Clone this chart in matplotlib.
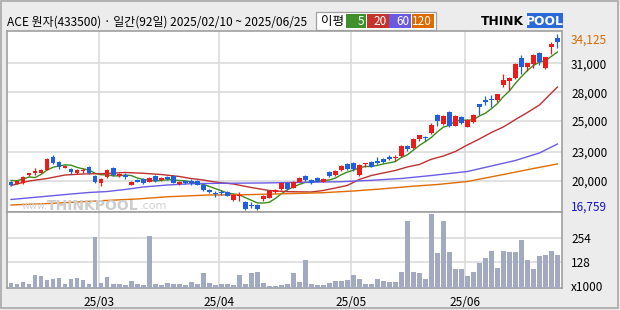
import matplotlib
matplotlib.use('Agg')
import matplotlib.pyplot as plt
import matplotlib.transforms as mtransforms
from matplotlib.patches import Rectangle
import numpy as np
import pandas as pd

plt.rcParams['font.family'] = ['Noto Sans CJK KR', 'DejaVu Sans']

# 일봉 데이터 (2025/02/10 ~ 2025/06/25, 92일)
opens = [19590, 19395, 19435, 20250, 20475, 20475, 20745, 22050, 21510, 20970,
         20840, 20475, 20615, 21040, 20180, 19435, 20005, 20970, 20105, 20280,
         19315, 19780, 19885, 19590, 20155, 19730, 20005, 20155, 19365, 19660,
         19640, 19660, 19265, 18775, 18450, 18580, 18580, 17790, 18155, 17595,
         17300, 17300, 17860, 18020, 18580, 18875, 19465, 19000, 19590, 20155,
         19760, 19935, 19590, 20525, 20250, 20745, 21315, 21460, 20250, 21305,
         21510, 21650, 21845, 22050, 21895, 22090, 23105, 22910, 23765, 23960,
         24385, 26155, 25270, 26470, 25120, 25930, 25005, 25435, 27210, 27600,
         27700, 27630, 29105, 29500, 29825, 31795, 30910, 31145, 32255, 30810,
         32845, 33760]
highs = [19690, 19690, 20125, 20475, 20940, 20810, 21895, 22190, 21580, 21235,
         20910, 20810, 20910, 21105, 20250, 19925, 20810, 21070, 20450, 20400,
         19660, 19855, 19955, 20055, 20250, 20055, 20105, 20220, 19680, 19730,
         19855, 19730, 19335, 18845, 18675, 18775, 18650, 18350, 18610, 17665,
         17545, 17370, 18255, 18725, 18845, 19530, 19530, 19630, 20005, 20220,
         19855, 20005, 19955, 20595, 20715, 21235, 21385, 21560, 21305, 21430,
         21580, 22050, 21925, 22190, 22220, 23155, 23230, 23845, 24235, 24090,
         25370, 26225, 26125, 26550, 26155, 26010, 25730, 26225, 27285, 28055,
         28125, 28270, 30160, 29845, 31270, 32060, 31320, 32155, 32385, 31910,
         33370, 34125]
lows = [19170, 19335, 19365, 20180, 20250, 20420, 20715, 21335, 20810, 20910,
        20320, 20320, 20450, 20350, 19435, 19200, 19955, 20180, 20005, 19810,
        19240, 19515, 19365, 19530, 19560, 19660, 19760, 19435, 19295, 19365,
        19295, 19240, 18705, 18450, 18040, 18285, 18135, 17720, 17720, 16855,
        17035, 16759, 17665, 17960, 18510, 18775, 18805, 18940, 19530, 19690,
        19365, 19530, 19530, 20085, 20180, 20595, 20790, 20675, 20180, 21010,
        21010, 21335, 21460, 21695, 21660, 22020, 22585, 22840, 23625, 23595,
        24315, 25100, 25200, 24975, 25055, 25240, 24925, 25370, 26155, 27140,
        26970, 27405, 28940, 28615, 29745, 30160, 30485, 30750, 31075, 30730,
        32130, 32780]
closes = [19265, 19660, 20055, 20420, 20615, 20745, 21825, 21480, 21010, 21185,
          20575, 20745, 20770, 20420, 19590, 19855, 20745, 20250, 20320, 20085,
          19590, 19580, 19465, 19985, 19630, 19975, 19835, 19495, 19610, 19435,
          19495, 19315, 18805, 18600, 18380, 18450, 18215, 18285, 18255, 16925,
          17170, 16905, 18185, 18645, 18775, 19465, 18875, 19560, 19935, 19760,
          19435, 19590, 19855, 20155, 20645, 21135, 20890, 20810, 21235, 21400,
          21070, 21460, 21510, 21805, 21995, 23105, 22760, 23775, 24170, 23845,
          25170, 25545, 26055, 25055, 26075, 25415, 25665, 26155, 26970, 27465,
          27600, 28190, 29600, 29765, 31175, 30910, 31240, 32060, 31400, 31835,
          33110, 33370]
# 거래량 (x1000)
volumes = [22, 17, 27, 17, 63, 58, 39, 42, 48, 19, 42, 48, 37, 17, 259, 22, 53, 17, 17, 12,
           32, 17, 12, 263, 17, 12, 22, 17, 17, 12, 27, 17, 73, 22, 12, 17, 17, 12, 63, 17,
           73, 78, 22, 7, 7, 12, 17, 73, 27, 140, 17, 12, 12, 22, 32, 32, 37, 63, 42, 17,
           17, 42, 32, 27, 27, 78, 340, 78, 73, 42, 375, 176, 340, 181, 94, 94, 58, 78, 124, 150,
           186, 99, 186, 181, 181, 242, 140, 94, 160, 165, 186, 165]

# 이동평균선: 5일선 앞부분과 20/60/120일선은 차트에서 읽은 값
ma5_head = [19710, 19690, 19860, 20055]
ma20_idx = [0, 3, 6, 9, 12, 16, 19, 22, 25, 28, 30, 32, 34, 37, 40, 43, 46, 50, 52,
            54, 56, 58, 60, 62, 64, 66, 68, 70, 72, 74, 76, 78, 80, 82, 84, 86, 88, 90, 91]
ma20_val = [19220, 19660, 19905, 20250, 20350, 20400, 20500, 20420, 20300, 20105, 19905,
            19760, 19560, 19365, 19020, 18725, 18610, 18580, 18725, 18970, 19220, 19810,
            20200, 20450, 20695, 21040, 21285, 21800, 22120, 22565, 23205, 23795, 24435,
            24975, 25710, 26400, 27140, 28320, 28910]
ma60_idx = [0, 4, 7, 10, 13, 16, 19, 22, 26, 30, 35, 42, 48, 55, 60, 65, 70, 76, 80, 84, 88, 91]
ma60_val = [17840, 18055, 18215, 18380, 18530, 18625, 18825, 19070, 19265, 19395, 19435,
            19465, 19530, 19590, 19730, 19905, 20200, 20595, 21135, 21680, 22415, 23300]
ma120_idx = [0, 7, 15, 21, 26, 33, 39, 46, 52, 57, 62, 67, 71, 76, 82, 87, 91]
ma120_val = [17300, 17465, 17720, 17890, 18105, 18285, 18310, 18410, 18510, 18675, 18895,
             19150, 19315, 19610, 20300, 20890, 21335]

month_idx = [15, 35, 57, 76]
month_labels = ['25/03', '25/04', '25/05', '25/06']
price_ticks = [31240, 28390, 25565, 22545, 19690]
price_labels = ['31,000', '28,000', '25,000', '23,000', '20,000']
vol_ticks = [254, 128]
vol_labels = ['254', '128']
ma_periods = ['5', '20', '60', '120']

title = 'ACE 원자(433500) · 일간(92일) 2025/02/10 ~ 2025/06/25'

UP = '#ee1b1b'
DOWN = '#1f5fe0'
MA_COLORS = ['#3c8c1c', '#bf3030', '#6a5ae6', '#e06c00']
BOX_COLORS = ['#3f8f2a', '#c4342c', '#6a5adf', '#de6a00']
GRID = '#d9d9d9'
FRAME = '#a0a0a0'

W, H = 620, 310


def fx(x):
    return x / W


def fy(y):
    return 1 - y / H


fig = plt.figure(figsize=(6.2, 3.1), dpi=100, facecolor='#ececec')
fig.patches.append(Rectangle((fx(1), fy(308)), fx(617), 307 / H, transform=fig.transFigure,
                             fill=False, edgecolor='#a8a8a8', lw=1.2))

ax = fig.add_axes([fx(7), fy(212), fx(555), 181 / H])
axv = fig.add_axes([fx(7), fy(287.5), fx(555), 75.5 / H], sharex=ax)

x = np.arange(len(closes))
o = np.array(opens)
c = np.array(closes)
hi = np.array(highs)
lo = np.array(lows)
colors = [UP if cc >= oo else DOWN for oo, cc in zip(o, c)]

# 캔들
body_bottom = np.minimum(o, c)
body_height = np.maximum(np.abs(c - o), 90)
ax.vlines(x, lo, hi, colors=colors, lw=0.9, zorder=4)
ax.bar(x, body_height, bottom=body_bottom, width=0.8, color=colors, zorder=5, linewidth=0)

# 이동평균선
ma5 = pd.Series(closes).rolling(5).mean().to_numpy()
ma5[:len(ma5_head)] = ma5_head
ax.plot(x, ma5, color=MA_COLORS[0], lw=1.0, zorder=3)
ax.plot(ma20_idx, ma20_val, color=MA_COLORS[1], lw=1.0, zorder=3)
ax.plot(ma60_idx, ma60_val, color=MA_COLORS[2], lw=1.0, zorder=3)
ax.plot(ma120_idx, ma120_val, color=MA_COLORS[3], lw=1.0, zorder=3)

rng = max(highs) - min(lows)
ax.set_ylim(min(lows) - 0.0086 * rng, max(highs) + 0.017 * rng)
ax.set_xlim(-0.67, len(closes) - 0.24)

# 거래량
axv.bar(x, volumes, width=0.8, color='#a2aac2', linewidth=0, zorder=3)
axv.set_ylim(0, 385)

grid_x = [i - 0.35 for i in month_idx]
for a in (ax, axv):
    a.set_facecolor('white')
    for s in a.spines.values():
        s.set_color(FRAME)
        s.set_linewidth(1.2)
    for gx in grid_x:
        a.axvline(gx, color=GRID, lw=1.1, zorder=1)
    a.yaxis.tick_right()
    a.tick_params(axis='both', length=0, labelsize=8.5, colors='black')

for gy in price_ticks:
    ax.axhline(gy, color=GRID, lw=1.1, zorder=1)
for gy in vol_ticks:
    axv.axhline(gy, color=GRID, lw=1.1, zorder=1)

ax.set_yticks(price_ticks)
ax.set_yticklabels(price_labels)
ax.tick_params(axis='y', pad=6.5)
ax.tick_params(axis='x', labelbottom=False)
axv.set_yticks(vol_ticks)
axv.set_yticklabels(vol_labels)
axv.tick_params(axis='y', pad=6.5)
axv.set_xticks(grid_x)
axv.set_xticklabels(month_labels)
axv.tick_params(axis='x', pad=6)

trans = mtransforms.blended_transform_factory(ax.transAxes, ax.transData)
lx = 1 + 9 / 555
ax.text(lx, max(highs), f'{max(highs):,}', transform=trans, ha='left', va='top',
        fontsize=8.5, color='#d56a00')
ax.text(lx, min(lows), f'{min(lows):,}', transform=trans, ha='left', va='baseline',
        fontsize=8.5, color='#1515c8')
axv.text(lx, 0, 'x1000', transform=mtransforms.blended_transform_factory(axv.transAxes, axv.transData),
         ha='left', va='center', fontsize=8.5)

# 워터마크
fig.text(fx(22), fy(209), 'www.', ha='left', va='baseline', fontsize=7,
         color='#d2d2d2', family='DejaVu Sans', zorder=0.5)
fig.text(fx(47), fy(209.5), 'THINKPOOL', ha='left', va='baseline', fontsize=10,
         color='#cdcdcd', fontweight='heavy', family='DejaVu Sans', zorder=0.5)
fig.text(fx(140), fy(209), '.com', ha='left', va='baseline', fontsize=8,
         color='#d2d2d2', family='DejaVu Sans', zorder=0.5)

# 제목
fig.text(fx(7), fy(22), title, ha='left', va='center', fontsize=8.6)

# 이평 범례
fig.patches.append(Rectangle((fx(316), fy(29.5)), fx(120), 17.5 / H, transform=fig.transFigure,
                             facecolor='white', edgecolor='#a0a0a0', lw=0.9))
fig.text(fx(321), fy(21.5), '이평', ha='left', va='center', fontsize=9)
box_x = [346, 367, 389.5, 412]
box_w = [20, 21.5, 21.5, 21.5]
for bx, bw, col, lab in zip(box_x, box_w, BOX_COLORS, ma_periods):
    fig.patches.append(Rectangle((fx(bx), fy(27.5)), fx(bw), 13 / H, transform=fig.transFigure,
                                 facecolor=col, edgecolor='none'))
    fig.text(fx(bx + bw - 1.5), fy(21.5), lab, ha='right', va='center', fontsize=8.5, color='white')

# THINKPOOL 로고
fig.text(fx(481), fy(21.5), 'THINK', ha='left', va='center', fontsize=8.8,
         fontweight='heavy', family='DejaVu Sans', color='black')
fig.patches.append(Rectangle((fx(527), fy(28)), fx(36), 15 / H, transform=fig.transFigure,
                             facecolor='#2a6ad8', edgecolor='none'))
fig.text(fx(545), fy(21.5), 'POOL', ha='center', va='center', fontsize=8.8,
         fontweight='heavy', family='DejaVu Sans', color='white')

fig.savefig('out.png', dpi=100, facecolor=fig.get_facecolor())
